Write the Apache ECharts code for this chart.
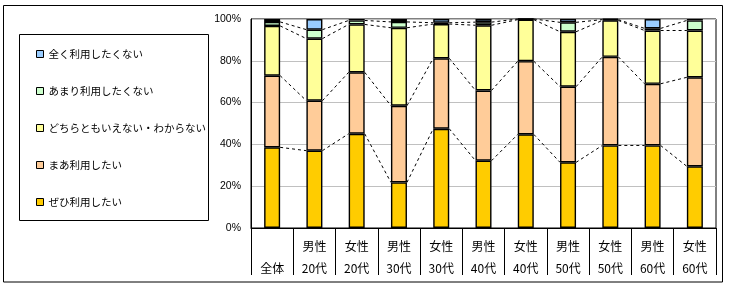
<!DOCTYPE html>
<html><head><meta charset="utf-8">
<script src="https://cdn.jsdelivr.net/npm/echarts@6/dist/echarts.min.js"></script>
<style>html,body{margin:0;padding:0;background:#fff}#c{width:729px;height:287px}</style>
</head><body><div id="c"></div>
<script>
var categories = ['\n全体','男性\n20代','女性\n20代','男性\n30代','女性\n30代','男性\n40代','女性\n40代','男性\n50代','女性\n50代','男性\n60代','女性\n60代'];
var seriesNames = ['ぜひ利用したい','まあ利用したい','どちらともいえない・わからない','あまり利用したくない','全く利用したくない'];
var zehi    = [38.6, 37.0, 45.1, 21.8, 47.5, 32.2, 44.8, 31.4, 39.5, 39.5, 29.5];
var maa     = [34.3, 23.9, 29.4, 36.7, 33.7, 33.6, 35.0, 36.2, 42.4, 29.5, 42.6];
var dochira = [23.8, 29.7, 22.9, 37.3, 16.4, 31.2, 19.9, 26.3, 17.4, 25.5, 22.4];
var amari   = [1.9, 4.3, 1.9, 2.8, 0.6, 1.5, 0.3, 4.5, 0.4, 1.0, 4.8];
var mattaku = [1.4, 5.1, 0.7, 1.4, 1.8, 1.5, 0.0, 1.6, 0.3, 4.5, 0.7];
var yTicks = [0, 20, 40, 60, 80, 100];

var colors = ['#FFCC00','#FFCC99','#FFFF99','#CCFFCC','#99CCFF'];
var values = [zehi, maa, dochira, amari, mattaku];
var FONT = '"Noto Sans CJK JP", sans-serif';
var BAR_W = 16;

var chart = echarts.init(document.getElementById('c'), null, {renderer:'canvas'});

var series = [];
values.forEach(function(arr, k){
  series.push({
    name: seriesNames[k], type:'bar', stack:'s', barWidth: BAR_W, z: 3,
    itemStyle:{color: colors[k], borderColor:'#000', borderWidth:1.4},
    data: arr
  });
});

// cumulative tops for series lines
var cum = [];
var run = categories.map(function(){return 0;});
for (var k = 0; k < 4; k++) {
  run = run.map(function(r, i){ return r + values[k][i]; });
  cum.push(run.slice());
}
var lineData = [];
cum.forEach(function(c){
  for (var i = 0; i < categories.length - 1; i++) lineData.push([i, c[i], c[i+1]]);
});
series.push({
  type:'custom', z: 2, silent:true,
  encode:{x:0, y:[1,2]},
  data: lineData,
  renderItem: function(params, api){
    var i = api.value(0);
    var p1 = api.coord([i, api.value(1)]);
    var p2 = api.coord([i+1, api.value(2)]);
    return {type:'line', shape:{x1:p1[0]+BAR_W/2, y1:p1[1], x2:p2[0]-BAR_W/2, y2:p2[1]},
      style:{stroke:'#000', lineWidth:1, lineDash:[3,3]}};
  }
});

chart.setOption({
  animation:false,
  textStyle:{fontFamily: FONT},
  grid:{left:251, right:13, top:19, bottom:59, show:true, borderColor:'#000', borderWidth:1, backgroundColor:'transparent'},
  legend:{
    orient:'vertical', left:31, top:42, itemWidth:7, itemHeight:7, itemGap:23,
    icon:'rect',
    data: seriesNames.slice().reverse(),
    itemStyle:{borderColor:'#000', borderWidth:1},
    textStyle:{fontFamily: FONT, fontSize:10.5, color:'#000', lineHeight:14}
  },
  xAxis:{
    type:'category', data: categories,
    axisLine:{lineStyle:{color:'#000'}},
    axisTick:{show:true, interval:0, length:47, lineStyle:{color:'#000'}},
    axisLabel:{interval:0, color:'#000', fontSize:12, lineHeight:22, margin:7, fontFamily: FONT}
  },
  yAxis:{
    type:'value', min: yTicks[0], max: yTicks[yTicks.length-1], interval: 20,
    axisLine:{show:true, lineStyle:{color:'#000'}},
    axisTick:{show:false},
    splitLine:{lineStyle:{color:'#c0c0c0'}},
    axisLabel:{formatter:'{value}%', color:'#000', fontSize:10.5, margin:10, fontFamily:'"Liberation Sans", sans-serif'}
  },
  graphic:[
    {type:'rect', shape:{x:3.5, y:5.5, width:719, height:276.5}, style:{fill:'none', stroke:'#000', lineWidth:1}, silent:true},
    {type:'rect', shape:{x:19.5, y:34.5, width:189, height:186}, style:{fill:'none', stroke:'#000', lineWidth:1}, silent:true}
  ],
  series: series
});
</script>
</body></html>
